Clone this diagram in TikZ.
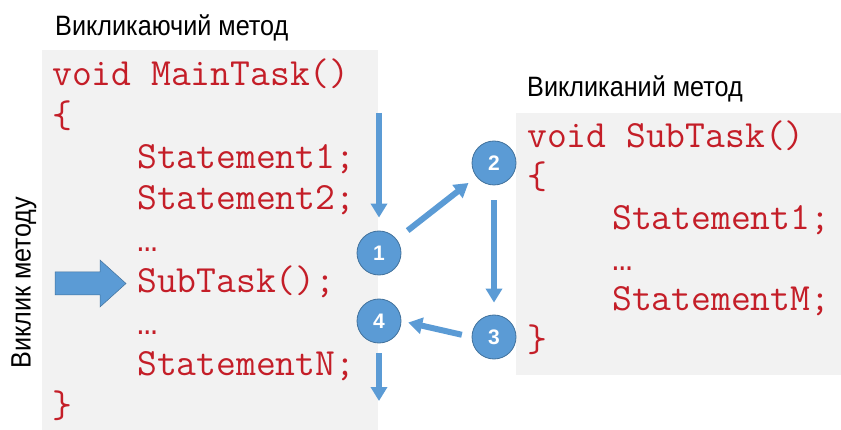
\documentclass[tikz,border=0pt]{standalone}
\usepackage{fontspec}
\setmainfont{Liberation Sans}
\newfontfamily\dotsfont{Liberation Mono}
\usetikzlibrary{arrows.meta}
\definecolor{codered}{RGB}{196,30,40}
\definecolor{boxgray}{RGB}{242,242,242}
\definecolor{flowblue}{RGB}{91,155,213}
\definecolor{flowedge}{RGB}{65,113,156}
\newcommand{\codedots}{{\dotsfont\fontsize{34}{40}\selectfont …}}
\tikzset{
  codeline/.style={anchor=base west, inner sep=0pt, text=codered, font=\ttfamily\fontsize{38.5}{44}\selectfont},
  heading/.style={inner sep=0pt, font=\fontsize{28}{32}\selectfont},
  stepnum/.style={circle, fill=flowblue, draw=flowedge, line width=0.8pt, minimum size=44pt, inner sep=0pt, text=white, font=\bfseries\fontsize{21}{24}\selectfont},
  flow/.style={draw=flowblue, line width=6pt, -{Triangle[width=16pt,length=14pt]}}
}
\begin{document}
\begin{tikzpicture}[x=1pt,y=-1pt]
\useasboundingbox (0,0) rectangle (841,430);
% boxes
\fill[boxgray] (42,50) rectangle (378,430);
\fill[boxgray] (516,113) rectangle (841,375);
% headings
\node[heading, anchor=west] (h1) at (55,28) {\scalebox{0.9}[1]{Викликаючий метод}};
\node[heading, anchor=west] (h2) at (527,89) {\scalebox{0.9}[1]{Викликаний метод}};
\node[heading, rotate=90] (h3) at (24,283) {\scalebox{0.9}[1]{Виклик методу}};
% main code
\node[codeline] (m0) at (52,86) {void MainTask()};
\node[codeline] (m1) at (52,127.5) {\{};
\node[codeline] (m2) at (137,169) {Statement1;};
\node[codeline] (m3) at (137,210) {Statement2;};
\node[codeline] (m4) at (137,251.5) {\codedots};
\node[codeline] (m5) at (137,293) {SubTask();};
\node[codeline] (m6) at (137,334.5) {\codedots};
\node[codeline] (m7) at (137,376) {StatementN;};
\node[codeline] (m8) at (52,417.5) {\}};
% sub code
\node[codeline] (s0) at (527,148) {void SubTask()};
\node[codeline] (s1) at (527,189) {\{};
\node[codeline] (s2) at (612,230) {Statement1;};
\node[codeline] (s3) at (612,270.5) {\codedots};
\node[codeline] (s4) at (612,311) {StatementM;};
\node[codeline] (s5) at (527,352) {\}};
% call arrow
\fill[flowblue, draw=flowedge, line width=0.5pt] (55,272) -- (100,272) -- (100,260) -- (126,283.5) -- (100,307) -- (100,295) -- (55,295) -- cycle;
% step circles
\node[stepnum] (c1) at (379,253) {1};
\node[stepnum] (c2) at (494,163) {2};
\node[stepnum] (c3) at (494,337) {3};
\node[stepnum] (c4) at (379,321) {4};
\coordinate (top) at (379,113);
\coordinate (bottom) at (379,401);
% flow arrows
\draw[flow, shorten >=13pt] (top) -- (c1.north);
\draw[flow, shorten <=14pt, shorten >=10pt] (c1) -- (c2);
\draw[flow, shorten <=15pt, shorten >=12pt] (c2.south) -- (c3.north);
\draw[flow, shorten <=10pt, shorten >=7pt] (c3.west) -- (c4.east);
\draw[flow, shorten <=10pt] (c4.south) -- (bottom);
\end{tikzpicture}
\end{document}
